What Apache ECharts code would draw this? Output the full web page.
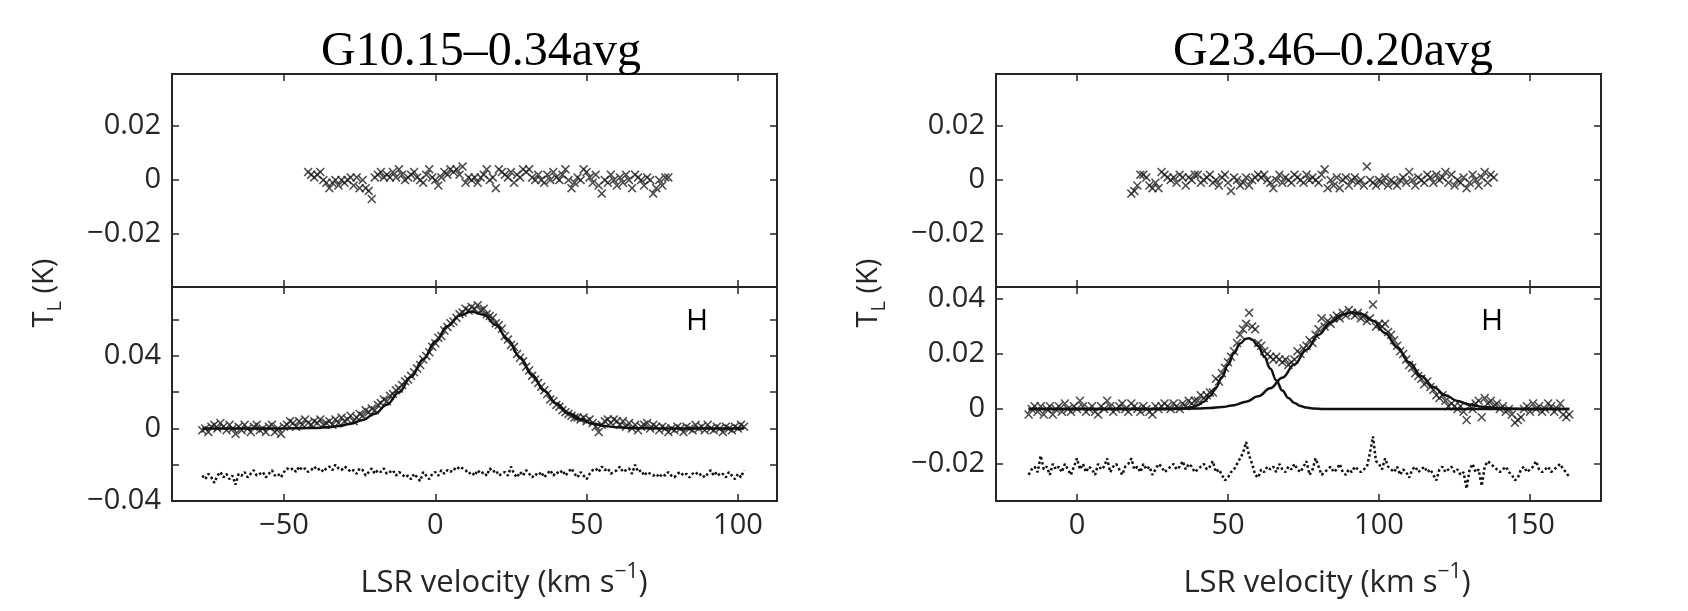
<!DOCTYPE html>
<html>
<head>
<meta charset="utf-8">
<title>G10.15-0.34avg / G23.46-0.20avg</title>
<script src="https://cdn.jsdelivr.net/npm/echarts@6/dist/echarts.min.js"></script>
<style>
html, body { margin: 0; padding: 0; background: #fff; }
#chart { width: 1688px; height: 611px; }
</style>
</head>
<body>
<div id="chart"></div>
<script>
// ---------- data ----------
const titles = ['G10.15\u20130.34avg', 'G23.46\u20130.20avg'];

// left source: velocity axis and y axes
const leftXRange = [-87, 112.9];
const leftXTicks = [-50, 0, 50, 100];
const topYRange = [-0.0396, 0.0393];
const topYTicks = [-0.02, 0, 0.02];
const leftBotYRange = [-0.04, 0.078];
const leftBotYTicks = [-0.04, -0.02, 0, 0.02, 0.04, 0.06];
const leftBotYLabels = [-0.04, 0, 0.04];

// upper panel, one value per 1 km/s channel starting at leftTopStart
const leftTopStart = -42;
const leftTopValues = [
  0.003, 0.002, 0.001, 0.002, 0.003, 0.000, -0.001, -0.003, -0.001, 0.000,
  -0.002, 0.000, -0.001, 0.000, 0.001, -0.002, 0.001, -0.003, 0.000, -0.003,
  -0.004, -0.007, 0.001, 0.002, 0.003, 0.001, 0.002, 0.001, 0.003, 0.001,
  0.004, 0.002, 0.000, 0.001, 0.002, 0.003, 0.001, 0.000, -0.001, 0.002,
  0.004, 0.001, 0.000, -0.002, 0.001, 0.003, 0.002, 0.004, 0.003, 0.004,
  0.002, 0.005, -0.001, 0.001, 0.000, 0.001, -0.001, 0.001, 0.002, 0.004,
  0.000, 0.001, -0.003, 0.004, 0.003, 0.002, 0.001, 0.003, -0.001, 0.002,
  0.001, 0.004, 0.003, 0.004, 0.001, 0.000, 0.002, 0.000, -0.001, 0.002,
  0.000, 0.003, 0.001, 0.000, 0.002, 0.004, 0.000, -0.003, -0.001, 0.001,
  0.000, 0.004, 0.003, 0.001, -0.001, 0.002, -0.002, -0.005, 0.000, -0.001,
  0.002, 0.000, -0.002, 0.001, -0.001, 0.002, 0.000, -0.003, 0.002, 0.001,
  0.000, -0.002, 0.001, 0.000, -0.005, -0.003, 0.000, -0.002, 0.001, 0.001
];

// lower panel: spectrum and residual (offset), channels from leftBotStart
const leftBotStart = -77;
const leftBotValues = [
  -0.001, 0.000, -0.002, 0.001, 0.002, 0.000, 0.003, 0.001, -0.001, 0.002,
  0.000, -0.003, 0.001, -0.001, 0.002, 0.000, -0.002, 0.001, 0.002, -0.001,
  0.000, -0.002, 0.001, 0.002, -0.002, 0.000, -0.003, 0.001, 0.002, 0.004,
  0.003, 0.001, 0.004, 0.002, 0.005, 0.003, 0.002, 0.004, 0.003, 0.005,
  0.002, 0.003, 0.004, 0.002, 0.005, 0.003, 0.006, 0.004, 0.005, 0.007,
  0.004, 0.006, 0.008, 0.007, 0.010, 0.009, 0.011, 0.010, 0.013, 0.014,
  0.016, 0.015, 0.018, 0.019, 0.021, 0.022, 0.024, 0.026, 0.027, 0.029,
  0.031, 0.033, 0.035, 0.038, 0.040, 0.042, 0.045, 0.047, 0.050, 0.051,
  0.054, 0.056, 0.058, 0.059, 0.061, 0.063, 0.064, 0.066, 0.065, 0.067,
  0.066, 0.068, 0.065, 0.066, 0.063, 0.062, 0.061, 0.058, 0.057, 0.055,
  0.051, 0.049, 0.046, 0.045, 0.041, 0.039, 0.037, 0.034, 0.032, 0.029,
  0.027, 0.025, 0.023, 0.021, 0.019, 0.016, 0.015, 0.013, 0.012, 0.010,
  0.009, 0.008, 0.007, 0.006, 0.006, 0.005, 0.006, 0.004, 0.005, 0.003,
  0.001, -0.002, 0.002, 0.004, 0.005, 0.003, 0.005, 0.004, 0.002, 0.004,
  0.001, 0.003, 0.000, 0.002, -0.001, 0.001, 0.002, 0.003, 0.000, 0.002,
  0.001, -0.001, 0.001, 0.000, -0.002, 0.000, -0.001, 0.001, 0.000, -0.002,
  0.001, 0.000, -0.001, 0.002, 0.000, 0.001, -0.001, 0.002, 0.000, -0.001,
  0.001, 0.000, -0.002, 0.001, 0.000, -0.001, 0.001, 0.000, 0.002, 0.001
];
const leftResValues = [
  -0.026, -0.028, -0.025, -0.027, -0.030, -0.026, -0.024, -0.027, -0.025, -0.028,
  -0.026, -0.031, -0.025, -0.026, -0.024, -0.027, -0.025, -0.023, -0.026, -0.025,
  -0.024, -0.027, -0.025, -0.023, -0.026, -0.025, -0.027, -0.024, -0.022, -0.023,
  -0.022, -0.024, -0.021, -0.023, -0.022, -0.024, -0.023, -0.021, -0.023, -0.022,
  -0.024, -0.022, -0.021, -0.023, -0.020, -0.022, -0.023, -0.021, -0.022, -0.024,
  -0.023, -0.025, -0.022, -0.023, -0.026, -0.024, -0.022, -0.025, -0.023, -0.024,
  -0.022, -0.025, -0.024, -0.023, -0.026, -0.024, -0.025, -0.027, -0.026, -0.028,
  -0.025, -0.027, -0.029, -0.024, -0.026, -0.028, -0.025, -0.024, -0.026, -0.023,
  -0.025, -0.023, -0.024, -0.022, -0.023, -0.021, -0.022, -0.023, -0.025, -0.024,
  -0.026, -0.023, -0.025, -0.024, -0.026, -0.022, -0.024, -0.023, -0.026, -0.025,
  -0.024, -0.026, -0.021, -0.025, -0.027, -0.024, -0.026, -0.023, -0.025, -0.027,
  -0.025, -0.026, -0.024, -0.027, -0.025, -0.023, -0.026, -0.024, -0.025, -0.023,
  -0.026, -0.024, -0.022, -0.025, -0.027, -0.024, -0.026, -0.028, -0.025, -0.023,
  -0.022, -0.024, -0.021, -0.023, -0.022, -0.025, -0.024, -0.023, -0.021, -0.024,
  -0.023, -0.022, -0.025, -0.020, -0.024, -0.023, -0.026, -0.024, -0.025, -0.026,
  -0.025, -0.027, -0.025, -0.026, -0.024, -0.026, -0.027, -0.025, -0.024, -0.026,
  -0.025, -0.027, -0.025, -0.024, -0.026, -0.025, -0.027, -0.025, -0.023, -0.026,
  -0.024, -0.026, -0.025, -0.027, -0.024, -0.026, -0.028, -0.025, -0.027, -0.023
];
// single gaussian fit
const leftFitX = [-77, -60, -50, -44, -40, -36, -32, -28, -24, -20, -16, -12, -8, -4, 0, 4, 8, 12, 16, 20,
  24, 28, 32, 36, 40, 44, 48, 52, 56, 60, 64, 70, 80, 102];
const leftFitY = [0, 0.00001, 0.00003, 0.00012, 0.00028, 0.00062, 0.00129, 0.00254, 0.00468, 0.00808,
  0.01312, 0.01996, 0.02849, 0.03813, 0.04788, 0.05637, 0.06226, 0.0645, 0.06266, 0.0571,
  0.0488, 0.03912, 0.02941, 0.02075, 0.01372, 0.00851, 0.00495, 0.0027, 0.00138, 0.00066,
  0.0003, 0.00006, 0, 0];

// right source
const rightXRange = [-26.8, 173.5];
const rightXTicks = [0, 50, 100, 150];
const rightBotYRange = [-0.0335, 0.0444];
const rightBotYTicks = [-0.02, 0, 0.02, 0.04];

const rightTopStart = 18;
const rightTopValues = [
  -0.005, -0.004, -0.002, 0.002, 0.002, 0.001, -0.002, -0.003, -0.001, -0.003,
  0.003, 0.002, 0.001, 0.000, 0.001, -0.001, 0.002, 0.001, -0.002, 0.001,
  0.000, 0.002, 0.002, -0.001, 0.000, 0.001, 0.002, -0.001, 0.000, -0.002,
  0.001, 0.002, -0.001, -0.004, 0.001, 0.000, -0.002, -0.001, 0.001, -0.002,
  0.000, 0.001, 0.002, 0.001, 0.002, 0.000, -0.001, -0.003, 0.000, 0.002,
  -0.001, 0.001, 0.000, -0.001, 0.002, 0.001, 0.000, -0.001, 0.002, 0.000,
  0.001, 0.000, -0.001, 0.002, 0.004, -0.003, 0.000, -0.002, 0.001, -0.003,
  0.000, 0.001, -0.002, 0.000, 0.001, -0.001, 0.000, -0.002, 0.005, 0.000,
  -0.001, -0.002, 0.000, -0.001, 0.001, -0.002, 0.000, -0.001, -0.002, 0.000,
  0.001, -0.001, 0.003, 0.000, -0.002, 0.001, 0.000, -0.001, 0.002, 0.001,
  -0.001, 0.002, 0.000, 0.001, 0.003, -0.001, 0.002, -0.002, 0.000, -0.001,
  0.001, -0.003, -0.001, 0.002, 0.000, -0.002, 0.001, 0.003, -0.001, 0.002,
  0.001
];

const rightBotStart = -16;
const rightBotValues = [
  -0.002, 0.000, 0.001, -0.001, 0.001, -0.002, 0.000, 0.001, -0.002, 0.000,
  0.001, -0.001, 0.002, 0.000, -0.001, 0.001, 0.000, 0.003, 0.001, -0.001,
  0.000, 0.001, -0.001, -0.002, 0.001, 0.000, 0.003, 0.001, -0.001, 0.000,
  0.001, 0.002, 0.000, -0.001, 0.002, 0.001, 0.000, -0.001, 0.001, 0.000,
  -0.001, -0.002, 0.001, 0.000, 0.001, 0.002, 0.001, 0.000, 0.002, 0.001,
  0.000, 0.002, 0.001, 0.003, 0.002, 0.003, 0.003, 0.005, 0.004, 0.005,
  0.006, 0.006, 0.011, 0.010, 0.013, 0.015, 0.017, 0.019, 0.021, 0.024,
  0.027, 0.029, 0.031, 0.035, 0.030, 0.029, 0.024, 0.023, 0.021, 0.020,
  0.019, 0.018, 0.019, 0.018, 0.017, 0.018, 0.016, 0.017, 0.018, 0.021,
  0.020, 0.022, 0.023, 0.025, 0.024, 0.027, 0.029, 0.033, 0.030, 0.032,
  0.031, 0.033, 0.034, 0.033, 0.035, 0.034, 0.036, 0.035, 0.034, 0.035,
  0.033, 0.034, 0.032, 0.033, 0.038, 0.030, 0.031, 0.030, 0.031, 0.028,
  0.027, 0.025, 0.023, 0.021, 0.020, 0.018, 0.016, 0.015, 0.013, 0.012,
  0.011, 0.009, 0.010, 0.008, 0.007, 0.005, 0.004, 0.005, 0.003, 0.001,
  0.002, 0.001, 0.000, 0.001, -0.001, -0.004, 0.001, 0.000, 0.002, 0.003,
  -0.003, 0.004, 0.002, 0.003, 0.001, 0.002, 0.000, 0.001, -0.001, 0.000,
  -0.002, -0.005, -0.004, -0.003, 0.000, 0.001, -0.001, 0.002, 0.000, 0.001,
  -0.001, 0.000, 0.002, 0.001, -0.001, 0.000, 0.002, -0.002, -0.003, -0.002
];
const rightResValues = [
  -0.024, -0.022, -0.021, -0.023, -0.017, -0.022, -0.021, -0.024, -0.020, -0.022,
  -0.021, -0.023, -0.020, -0.022, -0.024, -0.021, -0.018, -0.022, -0.020, -0.023,
  -0.021, -0.022, -0.024, -0.020, -0.022, -0.021, -0.018, -0.023, -0.021, -0.020,
  -0.022, -0.024, -0.021, -0.020, -0.018, -0.022, -0.021, -0.023, -0.020, -0.022,
  -0.021, -0.024, -0.022, -0.020, -0.021, -0.023, -0.022, -0.021, -0.020, -0.022,
  -0.021, -0.019, -0.022, -0.020, -0.021, -0.023, -0.022, -0.021, -0.020, -0.022,
  -0.021, -0.019, -0.023, -0.022, -0.024, -0.026, -0.025, -0.023, -0.022, -0.020,
  -0.018, -0.016, -0.012, -0.017, -0.020, -0.024, -0.025, -0.022, -0.023, -0.021,
  -0.022, -0.021, -0.023, -0.020, -0.022, -0.023, -0.021, -0.022, -0.020, -0.022,
  -0.023, -0.021, -0.019, -0.024, -0.022, -0.018, -0.021, -0.024, -0.023, -0.022,
  -0.021, -0.023, -0.022, -0.020, -0.023, -0.024, -0.022, -0.023, -0.021, -0.022,
  -0.023, -0.022, -0.021, -0.016, -0.010, -0.019, -0.020, -0.022, -0.018, -0.021,
  -0.022, -0.023, -0.021, -0.024, -0.022, -0.023, -0.025, -0.022, -0.021, -0.023,
  -0.022, -0.021, -0.023, -0.022, -0.024, -0.026, -0.022, -0.021, -0.023, -0.022,
  -0.021, -0.023, -0.022, -0.024, -0.023, -0.029, -0.022, -0.020, -0.023, -0.022,
  -0.028, -0.021, -0.019, -0.020, -0.021, -0.022, -0.023, -0.022, -0.021, -0.023,
  -0.024, -0.026, -0.025, -0.022, -0.021, -0.023, -0.022, -0.021, -0.019, -0.022,
  -0.023, -0.022, -0.021, -0.023, -0.022, -0.021, -0.020, -0.022, -0.023, -0.025
];
// two gaussian components
const rightFit1X = [-16, 30, 34, 36, 38, 40, 42, 44, 46, 48, 50, 52, 54, 56, 57, 58, 60, 62, 64, 66,
  68, 70, 72, 74, 76, 78, 82, 163];
const rightFit1Y = [0, 0, 0.00012, 0.00029, 0.00065, 0.00137, 0.00266, 0.0047, 0.0077, 0.0116,
  0.016, 0.0204, 0.0238, 0.0256, 0.0257, 0.0252, 0.0229, 0.0191, 0.0147, 0.0104,
  0.0067, 0.004, 0.0022, 0.0011, 0.0005, 0.0002, 0, 0];
const rightFit2X = [-16, 30, 40, 44, 48, 52, 56, 60, 64, 68, 72, 76, 80, 84, 88, 91, 94, 98, 102, 106,
  110, 114, 118, 122, 126, 130, 134, 140, 150, 163];
const rightFit2Y = [0, 0, 0.00015, 0.00033, 0.0007, 0.0014, 0.0026, 0.0046, 0.0075, 0.0114,
  0.0162, 0.0216, 0.027, 0.0315, 0.0344, 0.0352, 0.0347, 0.0321, 0.0277, 0.0225,
  0.017, 0.012, 0.008, 0.005, 0.0029, 0.0016, 0.0008, 0.0002, 0, 0];

// ---------- chart ----------
const AXIS = '#262626';
const FONT = '"Open Sans", sans-serif';
const CROSS = 'path://M0,1.2L1.2,0L5,3.8L8.8,0L10,1.2L6.2,5L10,8.8L8.8,10L5,6.2L1.2,10L0,8.8L3.8,5Z';

function channels(start, values) {
  return values.map((v, i) => [start + i, v]);
}
function pairs(xs, ys) {
  return xs.map((x, i) => [x, ys[i]]);
}
function fmt(v) {
  return String(v).replace('-', '\u2212');
}

const tick = { show: true, inside: true, length: 7, lineStyle: { color: AXIS, width: 1.5 } };
const label = { color: AXIS, fontSize: 29, fontFamily: FONT, formatter: fmt };

function xPair(grid, range, ticks, withLabels) {
  const base = { type: 'value', gridIndex: grid, min: range[0], max: range[1],
    splitLine: { show: false }, axisLine: { show: false, onZero: false } };
  return [
    Object.assign({}, base, { position: 'bottom',
      axisTick: Object.assign({ customValues: ticks }, tick),
      axisLabel: Object.assign({ show: withLabels, customValues: ticks, margin: 10 }, label) }),
    Object.assign({}, base, { position: 'top',
      axisTick: Object.assign({ customValues: ticks }, tick),
      axisLabel: { show: false } })
  ];
}
function yPair(grid, range, ticks, labels) {
  const base = { type: 'value', gridIndex: grid, min: range[0], max: range[1],
    splitLine: { show: false }, axisLine: { show: false, onZero: false } };
  return [
    Object.assign({}, base, { position: 'left',
      axisTick: Object.assign({ customValues: ticks }, tick),
      axisLabel: Object.assign({ customValues: labels, margin: 11 }, label) }),
    Object.assign({}, base, { position: 'right',
      axisTick: Object.assign({ customValues: ticks }, tick),
      axisLabel: { show: false } })
  ];
}

function crosses(grid, data) {
  return { type: 'scatter', xAxisIndex: grid * 2, yAxisIndex: grid * 2, data: data,
    symbol: CROSS, symbolSize: 9, itemStyle: { color: '#1e1e1e' }, z: 2 };
}
function fitLine(grid, data) {
  return { type: 'line', xAxisIndex: grid * 2, yAxisIndex: grid * 2, data: data,
    showSymbol: false, smooth: 0.4, smoothMonotone: 'x',
    lineStyle: { color: '#111', width: 2.5 }, z: 3 };
}
function residual(grid, data) {
  return { type: 'line', xAxisIndex: grid * 2, yAxisIndex: grid * 2, data: data,
    showSymbol: false, lineStyle: { color: '#111', width: 2.5, type: [2.5, 2.5] }, z: 3 };
}

const grids = [
  { left: 172, top: 74, width: 605, height: 213 },
  { left: 172, top: 287, width: 605, height: 214 },
  { left: 996, top: 74, width: 605, height: 213 },
  { left: 996, top: 287, width: 605, height: 214 }
].map(g => Object.assign(g, { show: true, borderColor: AXIS, borderWidth: 2, backgroundColor: 'transparent' }));

function yLabel(x) {
  return { type: 'text', x: x, y: 293, rotation: Math.PI / 2,
    style: { text: '{t|T}{s|L}{t| (K)}', align: 'center', verticalAlign: 'middle', fill: AXIS,
      rich: {
        t: { fontSize: 29, fontFamily: FONT, lineHeight: 40, fill: AXIS },
        s: { fontSize: 20, fontFamily: FONT, lineHeight: 20, verticalAlign: 'bottom', fill: AXIS }
      } } };
}
function xLabel(x) {
  return { type: 'text', x: x, y: 583,
    style: { text: '{t|LSR velocity (km s}{s|\u22121}{t|)}', align: 'center', verticalAlign: 'middle', fill: AXIS,
      rich: {
        t: { fontSize: 31, fontFamily: FONT, lineHeight: 42, fill: AXIS },
        s: { fontSize: 21, fontFamily: FONT, lineHeight: 19, verticalAlign: 'top', fill: AXIS }
      } } };
}
function title(x, text) {
  return { type: 'text', x: x, y: 52,
    style: { text: text, align: 'center', verticalAlign: 'middle', fill: '#000',
      font: '48px "Liberation Serif", "Times New Roman", serif' } };
}
function hLabel(x) {
  return { type: 'text', x: x, y: 321,
    style: { text: 'H', align: 'center', verticalAlign: 'middle', fill: '#000',
      font: '30px "Open Sans", sans-serif' } };
}

const chart = echarts.init(document.getElementById('chart'));
chart.setOption({
  animation: false,
  backgroundColor: '#fff',
  grid: grids,
  xAxis: [].concat(
    xPair(0, leftXRange, leftXTicks, false),
    xPair(1, leftXRange, leftXTicks, true),
    xPair(2, rightXRange, rightXTicks, false),
    xPair(3, rightXRange, rightXTicks, true)
  ),
  yAxis: [].concat(
    yPair(0, topYRange, topYTicks, topYTicks),
    yPair(1, leftBotYRange, leftBotYTicks, leftBotYLabels),
    yPair(2, topYRange, topYTicks, topYTicks),
    yPair(3, rightBotYRange, rightBotYTicks, rightBotYTicks)
  ),
  series: [
    crosses(0, channels(leftTopStart, leftTopValues)),
    crosses(1, channels(leftBotStart, leftBotValues)),
    fitLine(1, pairs(leftFitX, leftFitY)),
    residual(1, channels(leftBotStart, leftResValues)),
    crosses(2, channels(rightTopStart, rightTopValues)),
    crosses(3, channels(rightBotStart, rightBotValues)),
    fitLine(3, pairs(rightFit1X, rightFit1Y)),
    fitLine(3, pairs(rightFit2X, rightFit2Y)),
    residual(3, channels(rightBotStart, rightResValues))
  ],
  graphic: [
    title(481, titles[0]), title(1333, titles[1]),
    hLabel(697), hLabel(1492),
    yLabel(45), yLabel(869),
    xLabel(504), xLabel(1327)
  ]
});
</script>
</body>
</html>
